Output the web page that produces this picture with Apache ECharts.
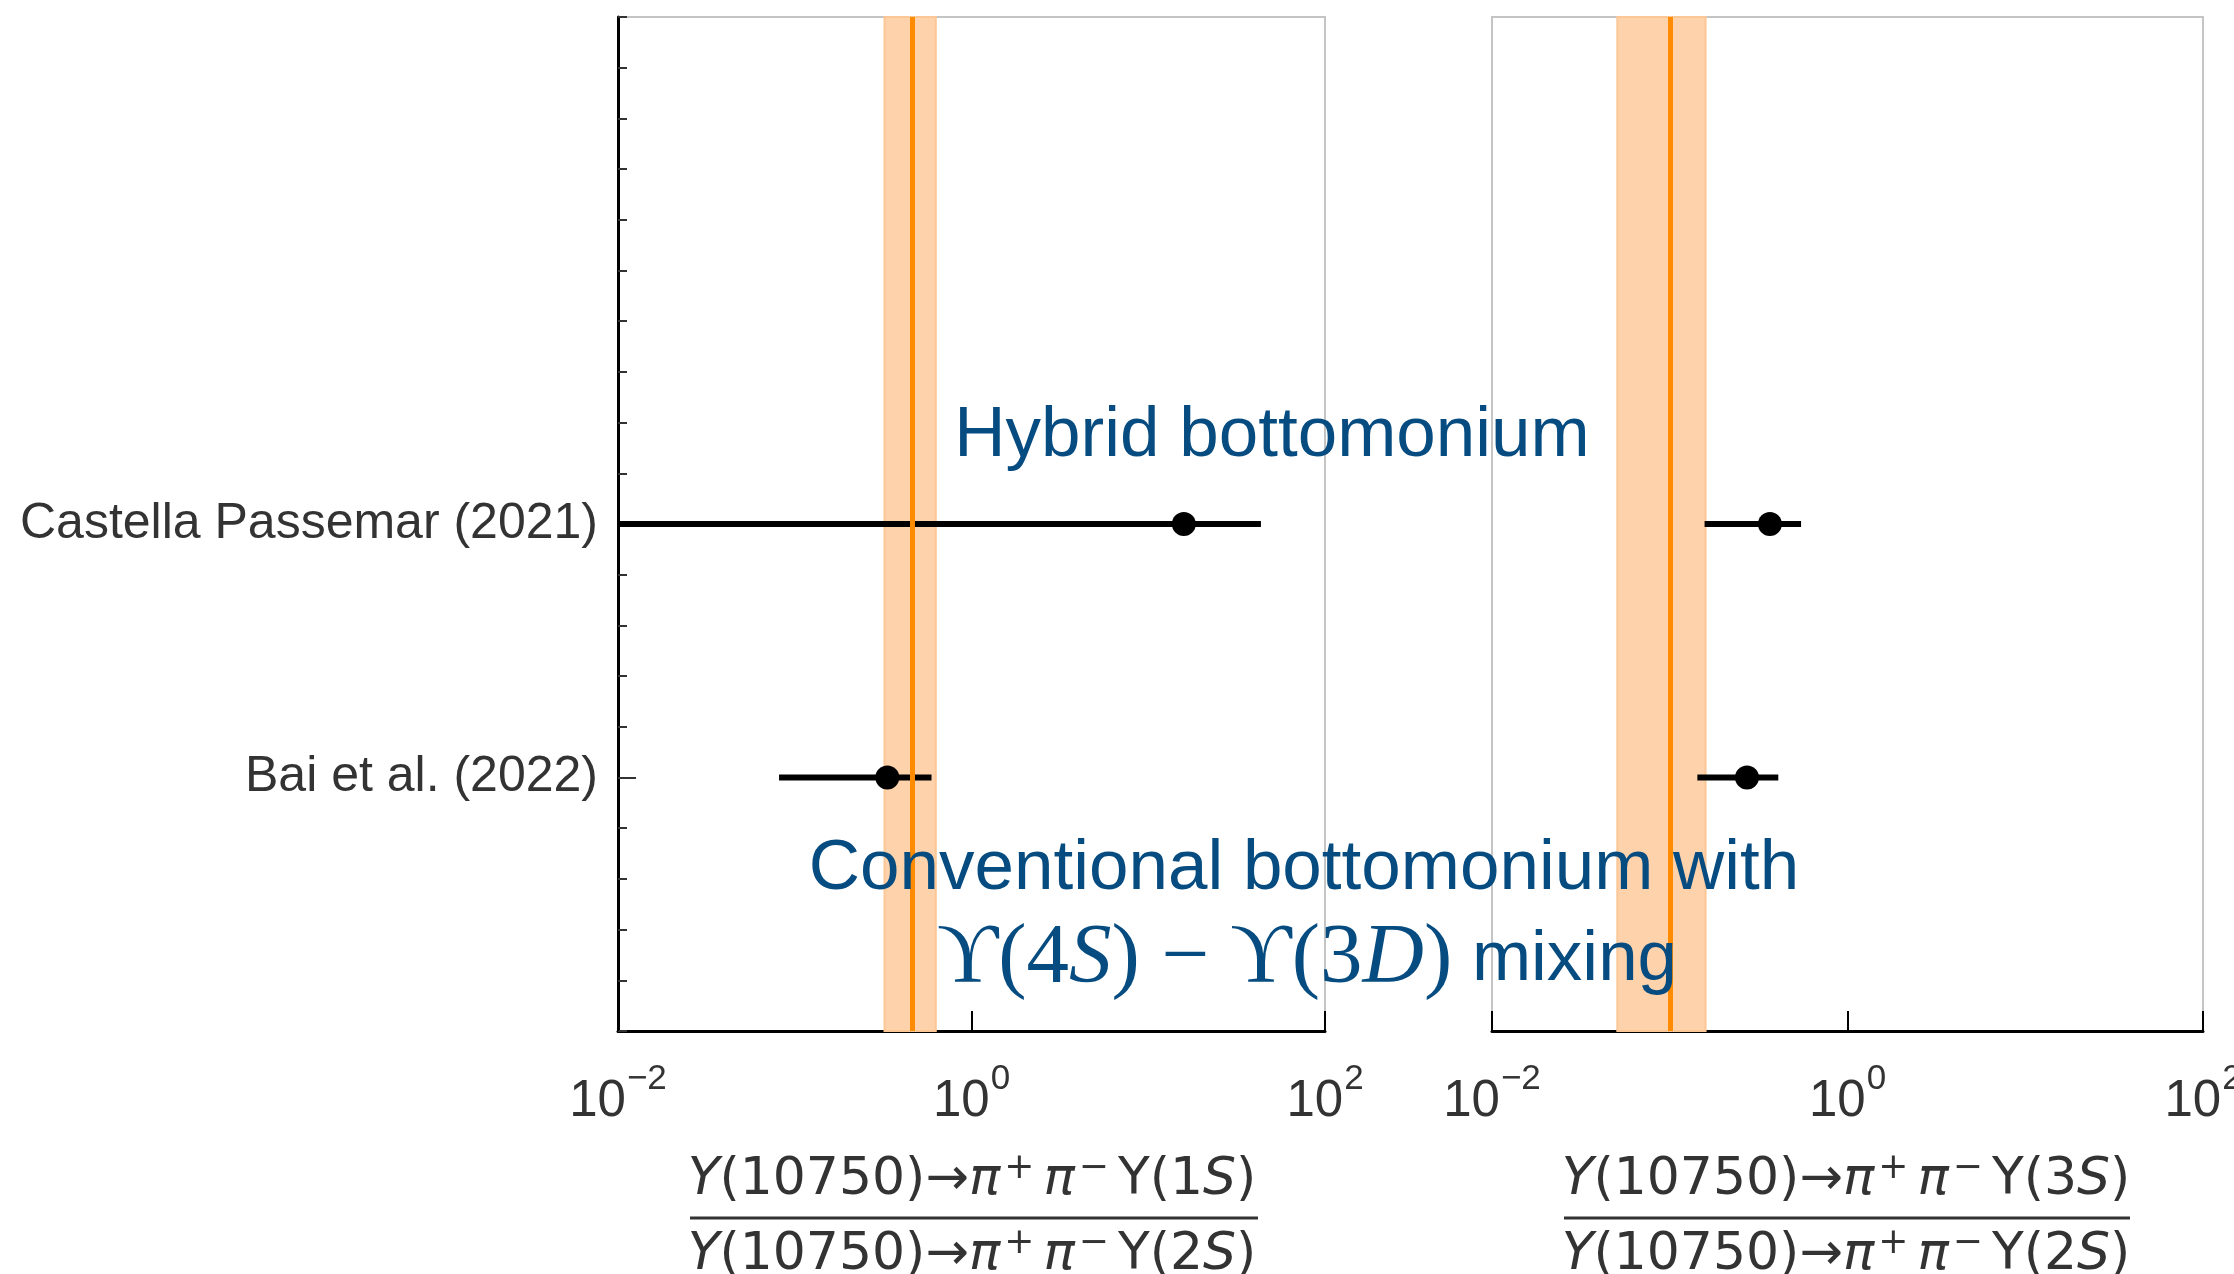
<!DOCTYPE html>
<html>
<head>
<meta charset="utf-8">
<script src="https://cdn.jsdelivr.net/npm/echarts@6/dist/echarts.min.js"></script>
<style>html,body{margin:0;padding:0;background:#fff}#c{width:2234px;height:1274px}</style>
</head>
<body>
<div id="c"></div>
<script>
// ---------- data ----------
const categories = ['Castella Passemar (2021)', 'Bai et al. (2022)'];
const rowPos = [10, 5];
// panel 1: ratio 1S / 2S
const val1S  = [15.9, 0.334];
const low1S  = [0.01, 0.0815];
const high1S = [43.4, 0.594];
const band1S = [0.322, 0.458, 0.628];   // low, central, high
// panel 2: ratio 3S / 2S
const val3S  = [0.366, 0.272];
const low3S  = [0.157, 0.143];
const high3S = [0.548, 0.408];
const band3S = [0.0507, 0.0986, 0.159];
const xMin = 0.01, xMax = 100;
const yMin = 0, yMax = 20;
const noteHybrid = 'Hybrid bottomonium';
const noteConv1 = 'Conventional bottomonium with';

// ---------- styles ----------
const SANS = '"Liberation Sans", Arial, Helvetica, sans-serif';
const MATH = '"DejaVu Sans", sans-serif';
const SERIF = '"Liberation Serif", "DejaVu Serif", serif';
const BLUE = '#064c80';
const ORANGE = '#ff8c00';

const chart = echarts.init(document.getElementById('c'), null, {renderer: 'canvas'});

function expLabel(v) {
  const e = Math.round(Math.log10(v));
  return '{b|10}{s|' + (e < 0 ? '\u2212' + (-e) : String(e)) + '}';
}

function xAxisFor(gridIndex) {
  return {
    type: 'log', logBase: 10, gridIndex: gridIndex, min: xMin, max: xMax, interval: 2,
    axisLine: {show: true, lineStyle: {color: '#000', width: 3}},
    axisTick: {show: true, inside: true, length: 20, lineStyle: {color: '#000', width: 2}},
    minorTick: {show: false},
    splitLine: {show: false},
    axisLabel: {
      margin: 44, formatter: expLabel, color: '#333',
      rich: {
        b: {fontSize: 51, fontFamily: SANS, color: '#333', lineHeight: 54},
        s: {fontSize: 35, fontFamily: SANS, color: '#333', lineHeight: 38, padding: [0, 0, 46, 1]}
      }
    }
  };
}

function errorSeries(xi, yi, vals, lows, highs) {
  return {
    type: 'custom', xAxisIndex: xi, yAxisIndex: yi, z: 3, clip: true,
    data: vals.map((v, i) => [v, rowPos[i], lows[i], highs[i]]),
    renderItem: function (params, api) {
      const y = api.value(1);
      const p0 = api.coord([api.value(2), y]);
      const p1 = api.coord([api.value(3), y]);
      const pc = api.coord([api.value(0), y]);
      return {
        type: 'group',
        children: [
          {type: 'line', shape: {x1: p0[0], y1: p0[1], x2: p1[0], y2: p1[1]},
           style: {stroke: '#000', lineWidth: 6}},
          {type: 'circle', shape: {cx: pc[0], cy: pc[1], r: 12}, style: {fill: '#000'}}
        ]
      };
    }
  };
}

function bandSeries(xi, yi, band) {
  return [
    {
      type: 'line', xAxisIndex: xi, yAxisIndex: yi, data: [], z: 1, silent: true,
      markArea: {
        silent: true,
        itemStyle: {color: '#fed2ab', borderColor: '#fcc796', borderWidth: 2},
        data: [[{xAxis: band[0]}, {xAxis: band[2]}]]
      }
    },
    {
      type: 'line', xAxisIndex: xi, yAxisIndex: yi, data: [], z: 4, silent: true,
      markLine: {
        silent: true, symbol: 'none', label: {show: false},
        lineStyle: {color: ORANGE, width: 5, type: 'solid', opacity: 1},
        data: [{xAxis: band[1]}]
      }
    }
  ];
}

function fracRich(n) {
  return '{i|Y}{r|(10750)\u2192}{i|\u03c0}{s|+}{i|\u03c0}{s|\u2212}{r|\u03a5(' + n + '}{i|S}{r|)}';
}
const fracRichStyles = {
  r: {fontSize: 52, fontFamily: MATH, fill: '#333', lineHeight: 60},
  i: {fontSize: 52, fontFamily: MATH, fontStyle: 'italic', fill: '#333', lineHeight: 60},
  s: {fontSize: 36, fontFamily: MATH, fill: '#333', lineHeight: 36, padding: [0, 9, 22, 4]}
};

function fraction(cx, x0, x1, n) {
  return [
    {type: 'text', x: cx, y: 1180, z: 20,
     style: {text: fracRich(n), rich: fracRichStyles, align: 'center', verticalAlign: 'middle'}},
    {type: 'line', z: 20, shape: {x1: x0, y1: 1218, x2: x1, y2: 1218}, style: {stroke: '#333', lineWidth: 3}},
    {type: 'text', x: cx, y: 1255, z: 20,
     style: {text: fracRich('2'), rich: fracRichStyles, align: 'center', verticalAlign: 'middle'}}
  ];
}

const option = {
  animation: false,
  backgroundColor: '#fff',
  grid: [
    {left: 618, top: 17, width: 707, height: 1014, show: true, borderColor: '#c4c4c4', borderWidth: 2,
     containLabel: false, outerBoundsMode: 'none'},
    {left: 1492, top: 17, width: 711, height: 1014, show: true, borderColor: '#c4c4c4', borderWidth: 2,
     containLabel: false, outerBoundsMode: 'none'}
  ],
  xAxis: [xAxisFor(0), xAxisFor(1)],
  yAxis: [
    { // minor ticks, left panel
      type: 'value', gridIndex: 0, position: 'left', offset: 0, min: yMin, max: yMax, interval: 1,
      axisLine: {show: true, lineStyle: {color: '#000', width: 3}},
      axisTick: {show: true, inside: true, length: 9, lineStyle: {color: '#333', width: 2}},
      axisLabel: {show: false}, splitLine: {show: false}
    },
    { // category ticks and labels, left panel
      type: 'value', gridIndex: 0, position: 'left', offset: 0, min: yMin, max: yMax, interval: 1,
      axisLine: {show: false},
      axisTick: {show: true, inside: true, length: 18, customValues: rowPos, lineStyle: {color: '#333', width: 2}},
      axisLabel: {
        show: true, customValues: rowPos, margin: 20, color: '#333', fontSize: 50, fontFamily: SANS,
        formatter: v => { const k = rowPos.indexOf(v); return k >= 0 ? categories[k] : ''; }
      },
      splitLine: {show: false}
    },
    { // right panel
      type: 'value', gridIndex: 1, position: 'left', min: yMin, max: yMax, interval: 1,
      axisLine: {show: true, lineStyle: {color: '#c4c4c4', width: 2}},
      axisTick: {show: false}, axisLabel: {show: false}, splitLine: {show: false}
    }
  ],
  series: [
    ...bandSeries(0, 0, band1S),
    ...bandSeries(1, 2, band3S),
    errorSeries(0, 0, val1S, low1S, high1S),
    errorSeries(1, 2, val3S, low3S, high3S)
  ],
  graphic: [
    {type: 'text', x: 1272, y: 436, z: 30,
     style: {text: noteHybrid, fontSize: 71, fontFamily: SANS, fill: BLUE, align: 'center', verticalAlign: 'middle'}},
    {type: 'text', x: 1304, y: 869, z: 30,
     style: {text: noteConv1, fontSize: 71, fontFamily: SANS, fill: BLUE, align: 'center', verticalAlign: 'middle'}},
    {type: 'text', x: 1307, y: 960, z: 30,
     style: {
       text: '{m|\u03d2(4}{mi|S}{m|) \u2212 \u03d2(3}{mi|D}{m|)}{t| mixing}',
       align: 'center', verticalAlign: 'middle',
       rich: {
         m: {fontSize: 85, fontFamily: SERIF, fill: BLUE, lineHeight: 100},
         mi: {fontSize: 85, fontFamily: SERIF, fontStyle: 'italic', fill: BLUE, lineHeight: 100},
         t: {fontSize: 71, fontFamily: SANS, fill: BLUE, lineHeight: 100}
       }
     }},
    ...fraction(972, 690, 1258, '1'),
    ...fraction(1846, 1564, 2130, '3')
  ]
};

chart.setOption(option);
</script>
</body>
</html>
